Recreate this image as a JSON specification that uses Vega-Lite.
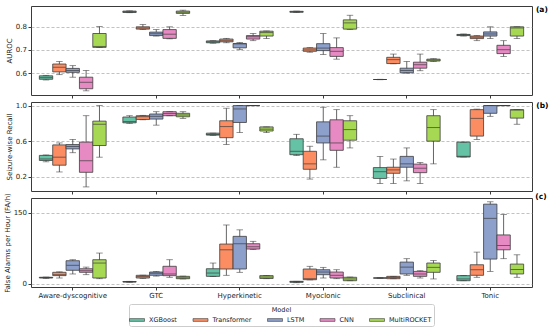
{
  "$schema": "https://vega.github.io/schema/vega-lite/v6.json",
  "padding": {"left": 2, "right": 1, "top": 5, "bottom": 0},
  "bounds": "flush",
  "config": {
    "font": "DejaVu Sans",
    "view": {"stroke": "#3a3a3a", "strokeWidth": 1},
    "axis": {"labelFontSize": 7, "titleFontSize": 7, "titleFontWeight": "normal", "tickSize": 3, "tickColor": "#3a3a3a", "labelColor": "#222", "titleColor": "#222", "labelPadding": 1.5, "domain": false, "titlePadding": 3, "labelOverlap": false},
    "axisY": {"grid": true, "gridDash": [3, 2], "gridColor": "#999", "gridWidth": 0.6},
    "axisX": {"grid": false},
    "legend": {"orient": "none", "legendX": 98, "legendY": 298, "direction": "horizontal", "titleAnchor": "middle", "titleOrient": "top", "strokeColor": "#cccccc", "padding": 2.5, "cornerRadius": 2, "labelFontSize": 6.5, "labelColor": "#222", "titleColor": "#222", "titleFontSize": 6.5, "titleFontWeight": "normal", "columnPadding": 13.5, "labelOffset": 6.5, "symbolType": "M-1.5,-0.28H1.5V0.28H-1.5Z", "symbolSize": 100, "symbolStrokeColor": "#3d3d3d", "symbolStrokeWidth": 0.6, "symbolOpacity": 1, "titlePadding": 1.5}
  },
  "spacing": 7,
  "data": {"values": [
    {"m":"A","t":"Aware-dyscognitive","model":"XGBoost","lo":0.570,"q1":0.573,"med":0.580,"q3":0.588,"hi":0.590},
    {"m":"A","t":"Aware-dyscognitive","model":"Transformer","lo":0.593,"q1":0.605,"med":0.625,"q3":0.639,"hi":0.650},
    {"m":"A","t":"Aware-dyscognitive","model":"LSTM","lo":0.582,"q1":0.603,"med":0.611,"q3":0.620,"hi":0.632},
    {"m":"A","t":"Aware-dyscognitive","model":"CNN","lo":0.523,"q1":0.532,"med":0.560,"q3":0.582,"hi":0.611},
    {"m":"A","t":"Aware-dyscognitive","model":"MultiROCKET","lo":0.710,"q1":0.711,"med":0.715,"q3":0.771,"hi":0.801},
    {"m":"A","t":"GTC","model":"XGBoost","lo":0.861,"q1":0.862,"med":0.865,"q3":0.868,"hi":0.869},
    {"m":"A","t":"GTC","model":"Transformer","lo":0.788,"q1":0.790,"med":0.795,"q3":0.800,"hi":0.810},
    {"m":"A","t":"GTC","model":"LSTM","lo":0.760,"q1":0.762,"med":0.770,"q3":0.777,"hi":0.788},
    {"m":"A","t":"GTC","model":"CNN","lo":0.748,"q1":0.750,"med":0.768,"q3":0.788,"hi":0.800},
    {"m":"A","t":"GTC","model":"MultiROCKET","lo":0.849,"q1":0.858,"med":0.863,"q3":0.868,"hi":0.872},
    {"m":"A","t":"Hyperkinetic","model":"XGBoost","lo":0.729,"q1":0.731,"med":0.735,"q3":0.739,"hi":0.740},
    {"m":"A","t":"Hyperkinetic","model":"Transformer","lo":0.731,"q1":0.735,"med":0.740,"q3":0.747,"hi":0.750},
    {"m":"A","t":"Hyperkinetic","model":"LSTM","lo":0.701,"q1":0.709,"med":0.726,"q3":0.728,"hi":0.732},
    {"m":"A","t":"Hyperkinetic","model":"CNN","lo":0.740,"q1":0.747,"med":0.757,"q3":0.762,"hi":0.771},
    {"m":"A","t":"Hyperkinetic","model":"MultiROCKET","lo":0.749,"q1":0.760,"med":0.775,"q3":0.781,"hi":0.782},
    {"m":"A","t":"Myoclonic","model":"XGBoost","lo":0.862,"q1":0.863,"med":0.865,"q3":0.867,"hi":0.868},
    {"m":"A","t":"Myoclonic","model":"Transformer","lo":0.690,"q1":0.694,"med":0.700,"q3":0.708,"hi":0.710},
    {"m":"A","t":"Myoclonic","model":"LSTM","lo":0.680,"q1":0.697,"med":0.708,"q3":0.727,"hi":0.771},
    {"m":"A","t":"Myoclonic","model":"CNN","lo":0.660,"q1":0.672,"med":0.694,"q3":0.710,"hi":0.752},
    {"m":"A","t":"Myoclonic","model":"MultiROCKET","lo":0.788,"q1":0.790,"med":0.817,"q3":0.830,"hi":0.850},
    {"m":"A","t":"Subclinical","model":"XGBoost","lo":0.571,"q1":0.572,"med":0.572,"q3":0.572,"hi":0.573},
    {"m":"A","t":"Subclinical","model":"Transformer","lo":0.640,"q1":0.641,"med":0.658,"q3":0.668,"hi":0.682},
    {"m":"A","t":"Subclinical","model":"LSTM","lo":0.600,"q1":0.601,"med":0.611,"q3":0.621,"hi":0.650},
    {"m":"A","t":"Subclinical","model":"CNN","lo":0.610,"q1":0.621,"med":0.636,"q3":0.647,"hi":0.682},
    {"m":"A","t":"Subclinical","model":"MultiROCKET","lo":0.650,"q1":0.652,"med":0.656,"q3":0.660,"hi":0.662},
    {"m":"A","t":"Tonic","model":"XGBoost","lo":0.760,"q1":0.762,"med":0.765,"q3":0.767,"hi":0.769},
    {"m":"A","t":"Tonic","model":"Transformer","lo":0.740,"q1":0.749,"med":0.755,"q3":0.760,"hi":0.762},
    {"m":"A","t":"Tonic","model":"LSTM","lo":0.749,"q1":0.760,"med":0.769,"q3":0.778,"hi":0.800},
    {"m":"A","t":"Tonic","model":"CNN","lo":0.672,"q1":0.684,"med":0.701,"q3":0.720,"hi":0.740},
    {"m":"A","t":"Tonic","model":"MultiROCKET","lo":0.749,"q1":0.760,"med":0.795,"q3":0.800,"hi":0.800},

    {"m":"R","t":"Aware-dyscognitive","model":"XGBoost","lo":0.368,"q1":0.383,"med":0.40,"q3":0.44,"hi":0.445},
    {"m":"R","t":"Aware-dyscognitive","model":"Transformer","lo":0.254,"q1":0.33,"med":0.42,"q3":0.558,"hi":0.58},
    {"m":"R","t":"Aware-dyscognitive","model":"LSTM","lo":0.47,"q1":0.513,"med":0.54,"q3":0.562,"hi":0.62},
    {"m":"R","t":"Aware-dyscognitive","model":"CNN","lo":0.086,"q1":0.25,"med":0.38,"q3":0.589,"hi":0.886},
    {"m":"R","t":"Aware-dyscognitive","model":"MultiROCKET","lo":0.42,"q1":0.551,"med":0.79,"q3":0.825,"hi":1.0},
    {"m":"R","t":"GTC","model":"XGBoost","lo":0.80,"q1":0.806,"med":0.82,"q3":0.871,"hi":0.886},
    {"m":"R","t":"GTC","model":"Transformer","lo":0.84,"q1":0.844,"med":0.875,"q3":0.886,"hi":0.89},
    {"m":"R","t":"GTC","model":"LSTM","lo":0.78,"q1":0.848,"med":0.879,"q3":0.905,"hi":0.931},
    {"m":"R","t":"GTC","model":"CNN","lo":0.886,"q1":0.886,"med":0.91,"q3":0.931,"hi":0.931},
    {"m":"R","t":"GTC","model":"MultiROCKET","lo":0.856,"q1":0.874,"med":0.894,"q3":0.913,"hi":0.931},
    {"m":"R","t":"Hyperkinetic","model":"XGBoost","lo":0.665,"q1":0.668,"med":0.675,"q3":0.69,"hi":0.69},
    {"m":"R","t":"Hyperkinetic","model":"Transformer","lo":0.562,"q1":0.639,"med":0.764,"q3":0.829,"hi":0.97},
    {"m":"R","t":"Hyperkinetic","model":"LSTM","lo":0.696,"q1":0.81,"med":0.962,"q3":1.0,"hi":1.0},
    {"m":"R","t":"Hyperkinetic","model":"CNN","lo":1.0,"q1":1.0,"med":1.0,"q3":1.0,"hi":1.0},
    {"m":"R","t":"Hyperkinetic","model":"MultiROCKET","lo":0.696,"q1":0.714,"med":0.735,"q3":0.76,"hi":0.76},
    {"m":"R","t":"Myoclonic","model":"XGBoost","lo":0.44,"q1":0.448,"med":0.486,"q3":0.627,"hi":0.677},
    {"m":"R","t":"Myoclonic","model":"Transformer","lo":0.174,"q1":0.284,"med":0.345,"q3":0.486,"hi":0.543},
    {"m":"R","t":"Myoclonic","model":"LSTM","lo":0.39,"q1":0.58,"med":0.657,"q3":0.817,"hi":0.981},
    {"m":"R","t":"Myoclonic","model":"CNN","lo":0.307,"q1":0.497,"med":0.58,"q3":0.84,"hi":0.954},
    {"m":"R","t":"Myoclonic","model":"MultiROCKET","lo":0.524,"q1":0.611,"med":0.73,"q3":0.829,"hi":0.886},
    {"m":"R","t":"Subclinical","model":"XGBoost","lo":0.124,"q1":0.181,"med":0.257,"q3":0.303,"hi":0.429},
    {"m":"R","t":"Subclinical","model":"Transformer","lo":0.124,"q1":0.239,"med":0.277,"q3":0.307,"hi":0.399},
    {"m":"R","t":"Subclinical","model":"LSTM","lo":0.154,"q1":0.307,"med":0.345,"q3":0.429,"hi":0.524},
    {"m":"R","t":"Subclinical","model":"CNN","lo":0.124,"q1":0.246,"med":0.296,"q3":0.342,"hi":0.36},
    {"m":"R","t":"Subclinical","model":"MultiROCKET","lo":0.345,"q1":0.60,"med":0.753,"q3":0.886,"hi":0.954},
    {"m":"R","t":"Tonic","model":"XGBoost","lo":0.422,"q1":0.422,"med":0.43,"q3":0.589,"hi":0.589},
    {"m":"R","t":"Tonic","model":"Transformer","lo":0.619,"q1":0.657,"med":0.856,"q3":0.954,"hi":0.96},
    {"m":"R","t":"Tonic","model":"LSTM","lo":0.879,"q1":0.913,"med":1.0,"q3":1.0,"hi":1.0},
    {"m":"R","t":"Tonic","model":"CNN","lo":1.0,"q1":1.0,"med":1.0,"q3":1.0,"hi":1.0},
    {"m":"R","t":"Tonic","model":"MultiROCKET","lo":0.79,"q1":0.859,"med":0.95,"q3":0.954,"hi":0.954},

    {"m":"F","t":"Aware-dyscognitive","model":"XGBoost","lo":11,"q1":12,"med":13,"q3":13.5,"hi":14},
    {"m":"F","t":"Aware-dyscognitive","model":"Transformer","lo":12,"q1":17,"med":19,"q3":24,"hi":25},
    {"m":"F","t":"Aware-dyscognitive","model":"LSTM","lo":20.5,"q1":28.3,"med":38.8,"q3":48.5,"hi":50.6},
    {"m":"F","t":"Aware-dyscognitive","model":"CNN","lo":19,"q1":24,"med":27.4,"q3":31.6,"hi":35},
    {"m":"F","t":"Aware-dyscognitive","model":"MultiROCKET","lo":10.5,"q1":12,"med":43.6,"q3":50.6,"hi":64.7},
    {"m":"F","t":"GTC","model":"XGBoost","lo":3,"q1":3.5,"med":4,"q3":4.5,"hi":5},
    {"m":"F","t":"GTC","model":"Transformer","lo":11,"q1":12,"med":15,"q3":17.7,"hi":18},
    {"m":"F","t":"GTC","model":"LSTM","lo":16,"q1":17.7,"med":22,"q3":24.6,"hi":26},
    {"m":"F","t":"GTC","model":"CNN","lo":13.5,"q1":16.9,"med":20.5,"q3":36.7,"hi":50.6},
    {"m":"F","t":"GTC","model":"MultiROCKET","lo":10,"q1":10.5,"med":12.5,"q3":15.5,"hi":16},
    {"m":"F","t":"Hyperkinetic","model":"XGBoost","lo":15,"q1":15.5,"med":22.5,"q3":31.6,"hi":43.6},
    {"m":"F","t":"Hyperkinetic","model":"Transformer","lo":17.7,"q1":31,"med":71.6,"q3":83.7,"hi":124},
    {"m":"F","t":"Hyperkinetic","model":"LSTM","lo":24,"q1":31,"med":84.4,"q3":100,"hi":113.7},
    {"m":"F","t":"Hyperkinetic","model":"CNN","lo":72,"q1":73.2,"med":78,"q3":84.4,"hi":89.5},
    {"m":"F","t":"Hyperkinetic","model":"MultiROCKET","lo":10.5,"q1":11,"med":14,"q3":17,"hi":17.5},
    {"m":"F","t":"Myoclonic","model":"XGBoost","lo":2,"q1":3,"med":4,"q3":5,"hi":5},
    {"m":"F","t":"Myoclonic","model":"Transformer","lo":8,"q1":8.4,"med":10.5,"q3":31,"hi":36.7},
    {"m":"F","t":"Myoclonic","model":"LSTM","lo":12,"q1":19,"med":24.6,"q3":29.5,"hi":34.5},
    {"m":"F","t":"Myoclonic","model":"CNN","lo":10.5,"q1":12,"med":17.7,"q3":24.6,"hi":29.5},
    {"m":"F","t":"Myoclonic","model":"MultiROCKET","lo":6.3,"q1":6.3,"med":10,"q3":13.5,"hi":14},
    {"m":"F","t":"Subclinical","model":"XGBoost","lo":11.5,"q1":12,"med":12,"q3":12,"hi":12.5},
    {"m":"F","t":"Subclinical","model":"Transformer","lo":10.5,"q1":10.5,"med":13,"q3":15.5,"hi":15.5},
    {"m":"F","t":"Subclinical","model":"LSTM","lo":17.7,"q1":20.5,"med":35,"q3":45.6,"hi":52.8},
    {"m":"F","t":"Subclinical","model":"CNN","lo":12,"q1":15.5,"med":20.5,"q3":26,"hi":27.4},
    {"m":"F","t":"Subclinical","model":"MultiROCKET","lo":10,"q1":24,"med":34.5,"q3":43.6,"hi":49},
    {"m":"F","t":"Tonic","model":"XGBoost","lo":6.3,"q1":6.3,"med":10,"q3":17,"hi":17},
    {"m":"F","t":"Tonic","model":"Transformer","lo":13.5,"q1":17.7,"med":29.5,"q3":40,"hi":66.7},
    {"m":"F","t":"Tonic","model":"LSTM","lo":26,"q1":52,"med":138,"q3":168,"hi":173},
    {"m":"F","t":"Tonic","model":"CNN","lo":52.8,"q1":71.6,"med":80.6,"q3":103,"hi":146},
    {"m":"F","t":"Tonic","model":"MultiROCKET","lo":13.5,"q1":20.5,"med":30,"q3":41.4,"hi":61}
  ]},
  "vconcat": [
    {
      "width": 501, "height": 89,
      "title": {"text": "(a)", "orient": "right", "anchor": "start", "angle": 0, "fontSize": 7.5, "fontWeight": "bold", "offset": -8, "baseline": "top", "align": "left"},
      "transform": [{"filter": "datum.m === 'A'"}],
      "encoding": {
        "x": {"field": "t", "type": "nominal", "sort": null, "scale": {"paddingInner": 0, "paddingOuter": 0}, "axis": {"labels": false, "title": null, "ticks": true}},
        "xOffset": {"field": "model", "type": "nominal", "sort": ["XGBoost", "Transformer", "LSTM", "CNN", "MultiROCKET"], "scale": {"paddingInner": 0, "paddingOuter": 0.625}}
      },
      "layer": [
        {"mark": {"type": "rule", "color": "#3d3d3d", "strokeWidth": 0.8}, "encoding": {"y": {"field": "lo", "type": "quantitative", "title": "AUROC", "scale": {"domain": [0.505, 0.89], "nice": false, "zero": false}, "axis": {"values": [0.6, 0.7, 0.8], "format": ".1f"}}, "y2": {"field": "hi"}}},
        {"mark": {"type": "bar", "stroke": "#3d3d3d", "strokeWidth": 0.8}, "encoding": {"y": {"field": "q1", "type": "quantitative", "title": "AUROC"}, "y2": {"field": "q3"}, "fill": {"field": "model", "type": "nominal", "title": "Model", "sort": ["XGBoost", "Transformer", "LSTM", "CNN", "MultiROCKET"], "scale": {"domain": ["XGBoost", "Transformer", "LSTM", "CNN", "MultiROCKET"], "range": ["#66c2a5", "#fc8d62", "#8da0cb", "#e78ac3", "#a6d854"]}}}},
        {"mark": {"type": "tick", "color": "#3d3d3d", "size": 13, "thickness": 1}, "encoding": {"y": {"field": "med", "type": "quantitative", "title": "AUROC"}}},
        {"mark": {"type": "tick", "color": "#3d3d3d", "size": 6.5, "thickness": 0.8}, "encoding": {"y": {"field": "lo", "type": "quantitative", "title": "AUROC"}}},
        {"mark": {"type": "tick", "color": "#3d3d3d", "size": 6.5, "thickness": 0.8}, "encoding": {"y": {"field": "hi", "type": "quantitative", "title": "AUROC"}}}
      ]
    },
    {
      "width": 501, "height": 89,
      "title": {"text": "(b)", "orient": "right", "anchor": "start", "angle": 0, "fontSize": 7.5, "fontWeight": "bold", "offset": -8, "baseline": "top", "align": "left"},
      "transform": [{"filter": "datum.m === 'R'"}],
      "encoding": {
        "x": {"field": "t", "type": "nominal", "sort": null, "scale": {"paddingInner": 0, "paddingOuter": 0}, "axis": {"labels": false, "title": null, "ticks": true}},
        "xOffset": {"field": "model", "type": "nominal", "sort": ["XGBoost", "Transformer", "LSTM", "CNN", "MultiROCKET"], "scale": {"paddingInner": 0, "paddingOuter": 0.625}}
      },
      "layer": [
        {"mark": {"type": "rule", "color": "#3d3d3d", "strokeWidth": 0.8}, "encoding": {"y": {"field": "lo", "type": "quantitative", "title": "Seizure-wise Recall", "scale": {"domain": [0.04, 1.04], "nice": false, "zero": false}, "axis": {"values": [0.2, 0.4, 0.6, 0.8, 1.0], "format": ".1f"}}, "y2": {"field": "hi"}}},
        {"mark": {"type": "bar", "stroke": "#3d3d3d", "strokeWidth": 0.8}, "encoding": {"y": {"field": "q1", "type": "quantitative", "title": "Seizure-wise Recall"}, "y2": {"field": "q3"}, "fill": {"field": "model", "type": "nominal", "title": "Model", "sort": ["XGBoost", "Transformer", "LSTM", "CNN", "MultiROCKET"], "scale": {"domain": ["XGBoost", "Transformer", "LSTM", "CNN", "MultiROCKET"], "range": ["#66c2a5", "#fc8d62", "#8da0cb", "#e78ac3", "#a6d854"]}}}},
        {"mark": {"type": "tick", "color": "#3d3d3d", "size": 13, "thickness": 1}, "encoding": {"y": {"field": "med", "type": "quantitative", "title": "Seizure-wise Recall"}}},
        {"mark": {"type": "tick", "color": "#3d3d3d", "size": 6.5, "thickness": 0.8}, "encoding": {"y": {"field": "lo", "type": "quantitative", "title": "Seizure-wise Recall"}}},
        {"mark": {"type": "tick", "color": "#3d3d3d", "size": 6.5, "thickness": 0.8}, "encoding": {"y": {"field": "hi", "type": "quantitative", "title": "Seizure-wise Recall"}}}
      ]
    },
    {
      "width": 501, "height": 89,
      "title": {"text": "(c)", "orient": "right", "anchor": "start", "angle": 0, "fontSize": 7.5, "fontWeight": "bold", "offset": -8, "baseline": "top", "align": "left"},
      "transform": [{"filter": "datum.m === 'F'"}],
      "encoding": {
        "x": {"field": "t", "type": "nominal", "sort": null, "scale": {"paddingInner": 0, "paddingOuter": 0}, "axis": {"labelAngle": 0, "title": null, "labelFontSize": 7}},
        "xOffset": {"field": "model", "type": "nominal", "sort": ["XGBoost", "Transformer", "LSTM", "CNN", "MultiROCKET"], "scale": {"paddingInner": 0, "paddingOuter": 0.625}}
      },
      "layer": [
        {"mark": {"type": "rule", "color": "#3d3d3d", "strokeWidth": 0.8}, "encoding": {"y": {"field": "lo", "type": "quantitative", "title": "False Alarms per Hour (FA/h)", "scale": {"domain": [-7, 181], "nice": false, "zero": false}, "axis": {"values": [0, 50, 100, 150]}}, "y2": {"field": "hi"}}},
        {"mark": {"type": "bar", "stroke": "#3d3d3d", "strokeWidth": 0.8}, "encoding": {"y": {"field": "q1", "type": "quantitative", "title": "False Alarms per Hour (FA/h)"}, "y2": {"field": "q3"}, "fill": {"field": "model", "type": "nominal", "title": "Model", "sort": ["XGBoost", "Transformer", "LSTM", "CNN", "MultiROCKET"], "scale": {"domain": ["XGBoost", "Transformer", "LSTM", "CNN", "MultiROCKET"], "range": ["#66c2a5", "#fc8d62", "#8da0cb", "#e78ac3", "#a6d854"]}}}},
        {"mark": {"type": "tick", "color": "#3d3d3d", "size": 13, "thickness": 1}, "encoding": {"y": {"field": "med", "type": "quantitative", "title": "False Alarms per Hour (FA/h)"}}},
        {"mark": {"type": "tick", "color": "#3d3d3d", "size": 6.5, "thickness": 0.8}, "encoding": {"y": {"field": "lo", "type": "quantitative", "title": "False Alarms per Hour (FA/h)"}}},
        {"mark": {"type": "tick", "color": "#3d3d3d", "size": 6.5, "thickness": 0.8}, "encoding": {"y": {"field": "hi", "type": "quantitative", "title": "False Alarms per Hour (FA/h)"}}}
      ]
    }
  ]
}
